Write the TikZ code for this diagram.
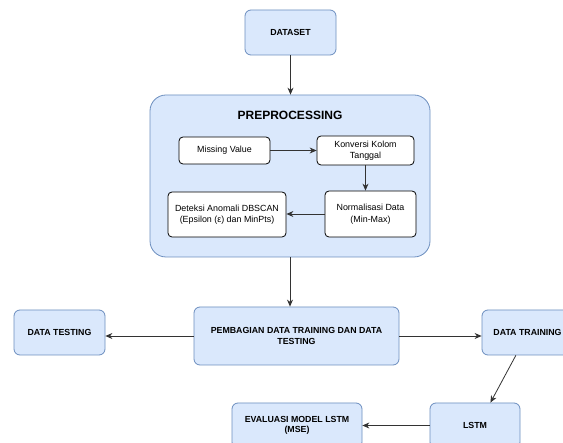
\documentclass[tikz,border=0pt]{standalone}
\usepackage{fontspec}
\setmainfont{Liberation Sans}
\usetikzlibrary{arrows.meta}
\definecolor{bfill}{HTML}{DAE8FC}
\definecolor{bline}{HTML}{6C8EBF}
\definecolor{conn}{HTML}{333333}
\tikzset{
  bluebox/.style={draw=bline, fill=bfill, line width=0.8pt, rounded corners=6pt,
    align=center, inner sep=0pt, font=\fontsize{8.8}{10.5}\selectfont\bfseries},
  whitebox/.style={draw=black, fill=white, line width=0.8pt, rounded corners=4pt,
    align=center, inner sep=0pt, font=\fontsize{8.9}{11.5}\selectfont},
  bigbox/.style={draw=bline, fill=bfill, line width=0.8pt, rounded corners=16pt, inner sep=0pt},
  conarrow/.style={draw=conn, line width=0.8pt, -{Stealth[length=7pt,width=6pt]}},
}
\begin{document}
\begin{tikzpicture}[x=1pt,y=-1pt]
\useasboundingbox (0,0) rectangle (563,443);
\clip (0,0) rectangle (563,443);
\fill[white] (0,0) rectangle (563,443);

\node[bluebox, minimum width=91pt, minimum height=45pt] (dataset) at (290.5,32.5) {DATASET};

\node[bigbox, minimum width=280pt, minimum height=162pt] (prep) at (290,176) {};
\node[font=\fontsize{12}{14}\selectfont\bfseries, inner sep=0pt] (title) at (290,115) {PREPROCESSING};

\node[whitebox, minimum width=91pt, minimum height=27pt] (mv) at (224.5,150.5) {Missing Value};
\node[whitebox, minimum width=97pt, minimum height=29pt] (kk) at (365.5,150.5) {Konversi Kolom\\Tanggal};
\node[whitebox, minimum width=91pt, minimum height=46pt] (norm) at (370.5,214) {Normalisasi Data\\(Min-Max)};
\node[whitebox, minimum width=118pt, minimum height=45pt] (det) at (227,214.5) {Deteksi Anomali DBSCAN\\(Epsilon (ε) dan MinPts)};

\node[bluebox, minimum width=205pt, minimum height=58pt] (pemb) at (296.5,336) {PEMBAGIAN DATA TRAINING DAN DATA\\TESTING};
\node[bluebox, minimum width=91pt, minimum height=45pt] (dtest) at (59.5,332.5) {DATA TESTING};
\node[bluebox, minimum width=91pt, minimum height=45pt] (dtrain) at (527.5,332.5) {DATA TRAINING};
\node[bluebox, minimum width=90pt, minimum height=45pt] (lstm) at (475,425.5) {LSTM};
\node[bluebox, minimum width=130pt, minimum height=45pt] (eval) at (297,425.5) {EVALUASI MODEL LSTM\\(MSE)};

\draw[conarrow] (dataset.south) -- (dataset.south |- prep.north);
\draw[conarrow] (mv.east) -- (mv.east -| kk.west);
\draw[conarrow] (kk.south) -- (kk.south |- norm.north);
\draw[conarrow] (norm.west) -- (norm.west -| det.east);
\draw[conarrow] (prep.south) -- (prep.south |- pemb.north);
\draw[conarrow] (pemb.west) -- (pemb.west -| dtest.east);
\draw[conarrow] (pemb.east) -- (pemb.east -| dtrain.west);
\draw[conarrow] (dtrain.243) -- (lstm.56);
\draw[conarrow] (lstm.west) -- (lstm.west -| eval.east);
\end{tikzpicture}
\end{document}
